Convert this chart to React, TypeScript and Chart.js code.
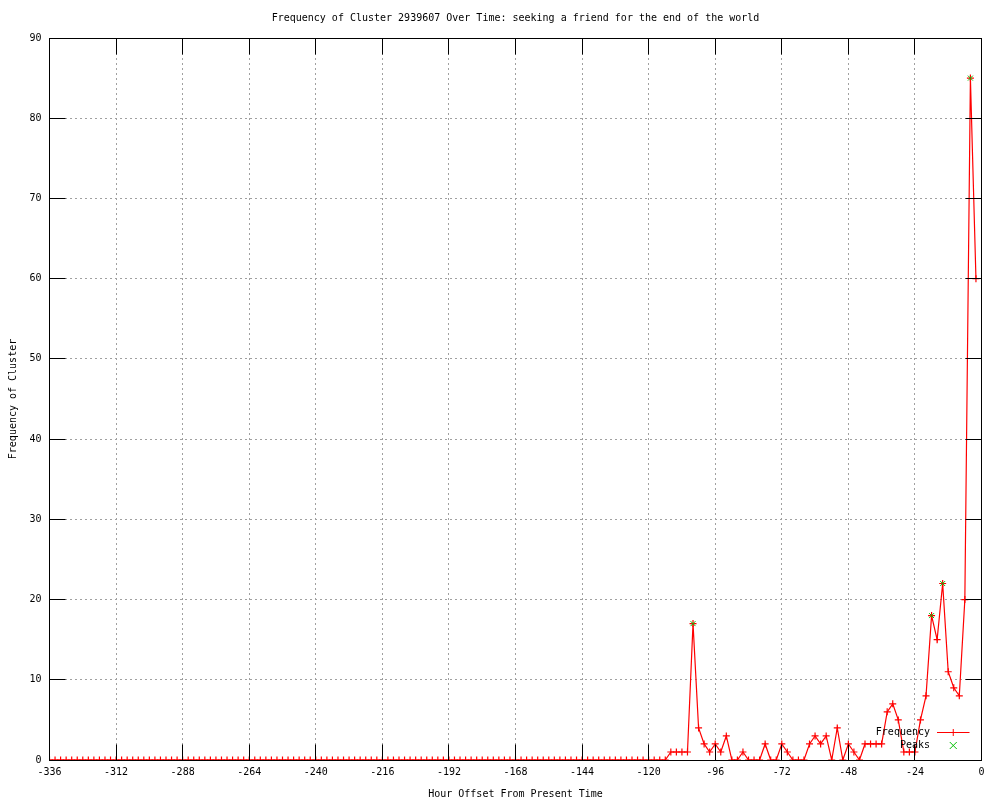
import React, { useEffect, useRef } from "react";
import { Chart, registerables } from "chart.js";

Chart.register(...registerables);

const TITLE = "Frequency of Cluster 2939607 Over Time: seeking a friend for the end of the world";
const X_TITLE = "Hour Offset From Present Time";
const Y_TITLE = "Frequency of Cluster";
const SERIES_LABELS = ["Frequency", "Peaks"];

const hours = [
  -336, -334, -332, -330, -328, -326, -324, -322, -320, -318, -316, -314,
  -312, -310, -308, -306, -304, -302, -300, -298, -296, -294, -292, -290,
  -288, -286, -284, -282, -280, -278, -276, -274, -272, -270, -268, -266,
  -264, -262, -260, -258, -256, -254, -252, -250, -248, -246, -244, -242,
  -240, -238, -236, -234, -232, -230, -228, -226, -224, -222, -220, -218,
  -216, -214, -212, -210, -208, -206, -204, -202, -200, -198, -196, -194,
  -192, -190, -188, -186, -184, -182, -180, -178, -176, -174, -172, -170,
  -168, -166, -164, -162, -160, -158, -156, -154, -152, -150, -148, -146,
  -144, -142, -140, -138, -136, -134, -132, -130, -128, -126, -124, -122,
  -120, -118, -116, -114, -112, -110, -108, -106, -104, -102, -100, -98,
  -96, -94, -92, -90, -88, -86, -84, -82, -80, -78, -76, -74,
  -72, -70, -68, -66, -64, -62, -60, -58, -56, -54, -52, -50,
  -48, -46, -44, -42, -40, -38, -36, -34, -32, -30, -28, -26,
  -24, -22, -20, -18, -16, -14, -12, -10, -8, -6, -4, -2,
];

const frequency = [
  0, 0, 0, 0, 0, 0, 0, 0, 0, 0, 0, 0,
  0, 0, 0, 0, 0, 0, 0, 0, 0, 0, 0, 0,
  0, 0, 0, 0, 0, 0, 0, 0, 0, 0, 0, 0,
  0, 0, 0, 0, 0, 0, 0, 0, 0, 0, 0, 0,
  0, 0, 0, 0, 0, 0, 0, 0, 0, 0, 0, 0,
  0, 0, 0, 0, 0, 0, 0, 0, 0, 0, 0, 0,
  0, 0, 0, 0, 0, 0, 0, 0, 0, 0, 0, 0,
  0, 0, 0, 0, 0, 0, 0, 0, 0, 0, 0, 0,
  0, 0, 0, 0, 0, 0, 0, 0, 0, 0, 0, 0,
  0, 0, 0, 0, 1, 1, 1, 1, 17, 4, 2, 1,
  2, 1, 3, 0, 0, 1, 0, 0, 0, 2, 0, 0,
  2, 1, 0, 0, 0, 2, 3, 2, 3, 0, 4, 0,
  2, 1, 0, 2, 2, 2, 2, 6, 7, 5, 1, 1,
  1, 5, 8, 18, 15, 22, 11, 9, 8, 20, 85, 60,
];

const peakHours = [-104, -18, -14, -4];
const peakValues = [17, 18, 22, 85];

const X_MIN = -336;
const X_MAX = 0;
const X_STEP = 24;
const Y_MIN = 0;
const Y_MAX = 90;
const Y_STEP = 10;

const FONT = '"DejaVu Sans Mono", "Liberation Mono", monospace';
const RED = "#ff0000";
const GREEN = "#00c000";
const GRID = "#a0a0a0";

const crisp = (v: number) => Math.floor(v) + 0.5;

const framePlugin = {
  id: "gnuFrame",
  afterDatasetsDraw(chart: any) {
    const { ctx, chartArea: a, scales } = chart;
    const L = crisp(a.left);
    const R = crisp(a.right);
    const T = crisp(a.top);
    const B = crisp(a.bottom);
    const TL = 16;
    ctx.save();
    ctx.strokeStyle = "#000";
    ctx.lineWidth = 1;
    ctx.setLineDash([]);
    ctx.beginPath();
    for (const t of scales.x.ticks) {
      const px = crisp(scales.x.getPixelForValue(t.value));
      ctx.moveTo(px, B);
      ctx.lineTo(px, B - TL);
      ctx.moveTo(px, T);
      ctx.lineTo(px, T + TL);
    }
    for (const t of scales.y.ticks) {
      const py = crisp(scales.y.getPixelForValue(t.value));
      ctx.moveTo(L, py);
      ctx.lineTo(L + TL, py);
      ctx.moveTo(R, py);
      ctx.lineTo(R - TL, py);
    }
    ctx.stroke();
    ctx.strokeRect(L, T, R - L, B - T);
    ctx.restore();
  },
  afterDraw(chart: any) {
    const { ctx, chartArea: a } = chart;
    ctx.save();
    ctx.font = `10px ${FONT}`;
    ctx.textAlign = "right";
    ctx.textBaseline = "middle";
    ctx.fillStyle = "#000";
    const rows = [a.bottom - 27.5, a.bottom - 15];
    chart.data.datasets.forEach((ds: any, i: number) => {
      const y = rows[i];
      ctx.fillText(ds.label, a.right - 51.5, y);
      const x0 = a.right - 44.5;
      const x1 = a.right - 12;
      const cx = (x0 + x1) / 2;
      const cy = Math.floor(y) + 0.5;
      const r = 3.5;
      ctx.strokeStyle = ds.pointBorderColor;
      ctx.lineWidth = 1;
      ctx.beginPath();
      if (ds.showLine !== false) {
        ctx.moveTo(x0, cy);
        ctx.lineTo(x1, cy);
      }
      if (ds.pointStyle === "cross") {
        ctx.moveTo(cx - r, cy);
        ctx.lineTo(cx + r, cy);
        ctx.moveTo(cx, cy - r);
        ctx.lineTo(cx, cy + r);
      } else {
        ctx.moveTo(cx - r, cy - r);
        ctx.lineTo(cx + r, cy + r);
        ctx.moveTo(cx - r, cy + r);
        ctx.lineTo(cx + r, cy - r);
      }
      ctx.stroke();
    });
    ctx.restore();
  },
};

export default function App() {
  const canvasRef = useRef<HTMLCanvasElement | null>(null);

  useEffect(() => {
    const canvas = canvasRef.current;
    if (!canvas) return;
    const font = { family: FONT, size: 10, weight: "normal" as const };
    const chart = new Chart(canvas, {
      type: "line",
      data: {
        datasets: [
          {
            label: SERIES_LABELS[0],
            data: hours.map((h, i) => ({ x: h, y: frequency[i] })),
            borderColor: RED,
            borderWidth: 1.2,
            pointStyle: "cross",
            pointRadius: 3.5,
            pointHoverRadius: 3.5,
            pointBorderColor: RED,
            pointBackgroundColor: RED,
            pointBorderWidth: 1.2,
            fill: false,
            tension: 0,
            order: 1,
          },
          {
            label: SERIES_LABELS[1],
            data: peakHours.map((h, i) => ({ x: h, y: peakValues[i] })),
            showLine: false,
            borderColor: GREEN,
            pointStyle: "crossRot",
            pointRadius: 3.5,
            pointHoverRadius: 3.5,
            pointBorderColor: GREEN,
            pointBackgroundColor: GREEN,
            pointBorderWidth: 1,
            order: 0,
          },
        ] as any,
      },
      options: {
        responsive: false,
        animation: false,
        devicePixelRatio: 1,
        layout: { padding: { left: 0, right: 18.5, top: 0, bottom: 0 } },
        events: [],
        scales: {
          x: {
            type: "linear",
            min: X_MIN,
            max: X_MAX,
            ticks: {
              stepSize: X_STEP,
              padding: 6,
              color: "#000",
              font,
              maxRotation: 0,
              autoSkip: false,
            },
            grid: { color: GRID, drawTicks: false, lineWidth: 1 },
            border: { display: false, dash: [2, 3] },
            title: {
              display: true,
              text: X_TITLE,
              color: "#000",
              font,
              padding: { top: 0, bottom: 0 },
            },
            afterFit(scale: any) {
              scale.height = 40;
            },
          },
          y: {
            type: "linear",
            min: Y_MIN,
            max: Y_MAX,
            ticks: {
              stepSize: Y_STEP,
              padding: 8,
              color: "#000",
              font,
            },
            grid: { color: GRID, drawTicks: false, lineWidth: 1 },
            border: { display: false, dash: [2, 3] },
            title: {
              display: true,
              text: Y_TITLE,
              color: "#000",
              font,
              padding: { top: 7, bottom: 0 },
            },
            afterFit(scale: any) {
              scale.width = 49.5;
            },
          },
        } as any,
        plugins: {
          legend: { display: false },
          tooltip: { enabled: false },
          title: {
            display: true,
            text: TITLE,
            color: "#000",
            font,
            padding: { top: 12, bottom: 14 },
            fullSize: false,
          },
        },
      },
      plugins: [framePlugin],
    });
    return () => chart.destroy();
  }, []);

  return (
    <div style={{ position: "fixed", left: 0, top: 0, width: 1000, height: 800, background: "#fff" }}>
      <canvas ref={canvasRef} width={1000} height={800} style={{ display: "block" }} />
    </div>
  );
}
